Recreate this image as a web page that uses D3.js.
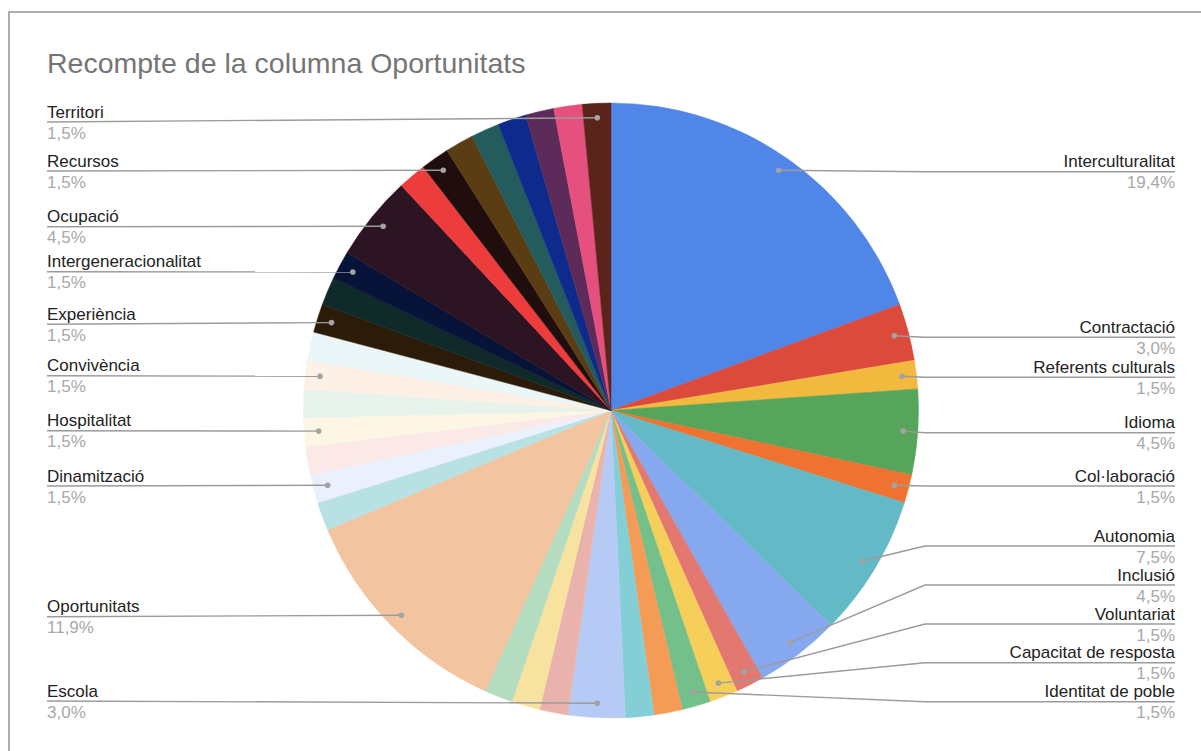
<!DOCTYPE html>
<html>
<head>
<meta charset="utf-8">
<script src="https://cdn.jsdelivr.net/npm/d3@7"></script>
<style>
  html, body { margin: 0; padding: 0; background: #ffffff; }
  svg { display: block; font-family: "Liberation Sans", Arial, Helvetica, sans-serif; }
</style>
</head>
<body>
<svg id="chart" width="1201" height="751"></svg>
<script>
// ---- Data (counts of answers; 67 in total) ----
const title = "Recompte de la columna Oportunitats";
const categories = [
  "Interculturalitat", "Contractació", "Referents culturals", "Idioma", "Col·laboració",
  "Autonomia", "Inclusió", "Voluntariat", "Capacitat de resposta", "Identitat de poble",
  "", "", "Escola", "", "", "",
  "Oportunitats", "", "Dinamització", "", "Hospitalitat", "", "Convivència", "",
  "Experiència", "", "Intergeneracionalitat", "Ocupació", "", "Recursos",
  "", "", "", "", "", "Territori"
];
const counts = [
  13, 2, 1, 3, 1,
  5, 3, 1, 1, 1,
  1, 1, 2, 1, 1, 1,
  8, 1, 1, 1, 1, 1, 1, 1,
  1, 1, 1, 3, 1, 1,
  1, 1, 1, 1, 1, 1
];
const colors = [
  "#5086e8", "#db4a3b", "#f2b93f", "#57a55a", "#f07230",
  "#63b9c5", "#86a8ee", "#e2786f", "#f6cf5a", "#74c08a",
  "#f49b56", "#83cfd5", "#b5cbf5", "#eab2ac", "#f8e2a0", "#b3dcc0",
  "#f2c49f", "#b8e1e4", "#eaf0fc", "#fbe9e7", "#fdf6e5", "#e7f3ea", "#fdf0e4", "#ebf6f8",
  "#2b1b08", "#102a29", "#081339", "#2c1423", "#ec3c3c", "#200e0e",
  "#5b3d14", "#245c5e", "#0e2a8c", "#5c2b5a", "#e5507f", "#5b241b"
];

// ---- Layout (label leader-line heights, not data) ----
const labelLineY = {
  "Territori": 122, "Recursos": 171, "Ocupació": 226.7, "Intergeneracionalitat": 271.7,
  "Experiència": 324.3, "Convivència": 375.7, "Hospitalitat": 430.7, "Dinamització": 486,
  "Oportunitats": 616.7, "Escola": 701,
  "Interculturalitat": 171.7, "Contractació": 337.3, "Referents culturals": 377.3,
  "Idioma": 432.7, "Col·laboració": 486, "Autonomia": 546, "Inclusió": 585,
  "Voluntariat": 624, "Capacitat de resposta": 662.7, "Identitat de poble": 701.7
};

const svg = d3.select("#chart");
const W = 1201, H = 751;
const cx = 611, cy = 410.5, R = 307.5, dotR = 293;
const leftX = 47, rightX = 1175, rightElbow = 925;

// frame
svg.append("rect")
  .attr("x", 9).attr("y", 12)
  .attr("width", W + 20).attr("height", H + 20)
  .attr("fill", "#ffffff")
  .attr("stroke", "#9a9a9a")
  .attr("stroke-width", 1.6);

// title
svg.append("text")
  .attr("x", 47).attr("y", 73)
  .attr("font-size", "28.5px")
  .attr("fill", "#757575")
  .text(title);

const data = categories.map((c, i) => ({ name: c, value: counts[i], color: colors[i] }));
const total = d3.sum(counts);

const pie = d3.pie().sort(null).value(d => d.value).startAngle(0).endAngle(2 * Math.PI);
const arcs = pie(data);
const arc = d3.arc().innerRadius(0).outerRadius(R);
const dotArc = d3.arc().innerRadius(dotR).outerRadius(dotR);

const g = svg.append("g").attr("transform", `translate(${cx},${cy})`);
g.selectAll("path.slice")
  .data(arcs)
  .join("path")
  .attr("class", "slice")
  .attr("d", arc)
  .attr("fill", d => d.data.color)
  .attr("stroke", d => d.data.color)
  .attr("stroke-width", 0.5);

const fmt = v => (v * 100).toFixed(1).replace(".", ",") + "%";

const labelled = arcs.filter(d => d.data.name !== "");
const lg = svg.append("g");

labelled.forEach(d => {
  const [px, py] = dotArc.centroid(d);
  const dx = cx + px, dy = cy + py;
  const mid = (d.startAngle + d.endAngle) / 2;
  const isRight = mid < Math.PI;
  const ly = labelLineY[d.data.name];
  let pts;
  if (isRight) {
    pts = [[rightX, ly], [rightElbow, ly], [dx, dy]];
  } else {
    pts = [[leftX, ly], [dx, dy]];
  }
  lg.append("path")
    .attr("d", d3.line()(pts))
    .attr("fill", "none")
    .attr("stroke", "#9b9b9b")
    .attr("stroke-width", 1.4);
  lg.append("circle")
    .attr("cx", dx).attr("cy", dy).attr("r", 2.8)
    .attr("fill", "#a3a3a3");
  const tx = isRight ? rightX : leftX;
  const anchor = isRight ? "end" : "start";
  lg.append("text")
    .attr("x", tx).attr("y", ly - 4.5)
    .attr("text-anchor", anchor)
    .attr("font-size", "17px")
    .attr("fill", "#222222")
    .text(d.data.name);
  lg.append("text")
    .attr("x", tx).attr("y", ly + 16.5)
    .attr("text-anchor", anchor)
    .attr("font-size", "17px")
    .attr("fill", "#a8a8a8")
    .text(fmt(d.data.value / total));
});
</script>
</body>
</html>
